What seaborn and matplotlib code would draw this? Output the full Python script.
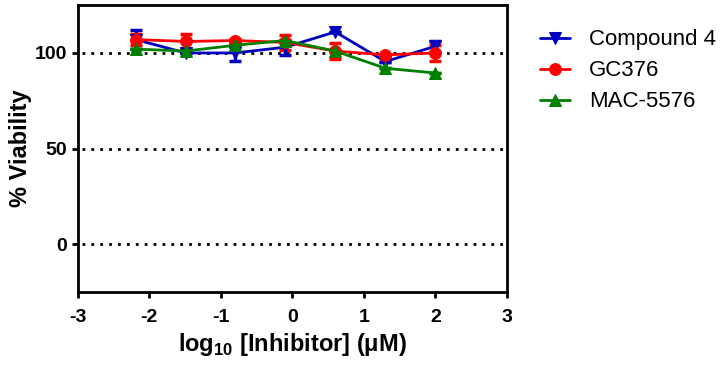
import seaborn as sns
import pandas as pd
import matplotlib.pyplot as plt
import numpy as np

sns.set_theme(style='ticks')
plt.rcParams['font.family'] = ['Liberation Sans', 'DejaVu Sans']
plt.rcParams.update({
    'axes.unicode_minus': False,
    'text.color': 'black',
    'axes.labelcolor': 'black',
    'xtick.color': 'black',
    'ytick.color': 'black',
    'mathtext.fontset': 'custom',
    'mathtext.rm': 'Liberation Sans',
    'mathtext.bf': 'Liberation Sans:bold',
})

# log10 of concentration (uM), 5-fold dilution from 100 uM
log_conc = [-2.19, -1.49, -0.80, -0.10, 0.60, 1.30, 2.00]

cmpd4 = [107, 100, 100, 103, 111, 95.5, 103.5]
cmpd4_err = [5, 0, 4, 4, 0, 0, 3]
gc376 = [107, 106, 106.5, 105.5, 101, 99, 100]
gc376_err = [3, 4, 1, 4, 4, 0, 4]
mac5576 = [102, 101, 104, 106.5, 101, 92, 89.5]
mac5576_err = [0, 0, 0, 0, 0, 0, 0]

names = ['Compound 4', 'GC376', 'MAC-5576']
colors = ['#0000c0', '#ff0000', '#008000']
markers = ['v', 'o', '^']

df = pd.DataFrame({
    'x': log_conc * 3,
    'y': cmpd4 + gc376 + mac5576,
    'err': cmpd4_err + gc376_err + mac5576_err,
    'name': np.repeat(names, len(log_conc)),
})

fig = plt.figure(figsize=(7.2, 3.66), dpi=100)
ax = fig.add_axes([0.108, 0.202, 0.596, 0.784])

for y in [0, 50, 100]:
    ax.axhline(y, xmin=0.01, xmax=0.99, color='black', linestyle=(0, (1, 2.2)),
               linewidth=2, zorder=1)

for name, c, m in zip(names, colors, markers):
    d = df[df.name == name]
    ax.errorbar(d.x, d.y, yerr=d.err, fmt='none', ecolor=c, elinewidth=2.5,
                capsize=4, capthick=2.5, zorder=3)
    sns.lineplot(data=d, x='x', y='y', ax=ax, color=c, marker=m, markersize=8.5,
                 markeredgecolor=c, linewidth=2, label=name, zorder=4)

ax.set_xlim(-3, 3)
ax.set_ylim(-25, 125)
ax.set_xticks(range(-3, 4))
ax.set_yticks([0, 50, 100])
for s in ax.spines.values():
    s.set_linewidth(2)
    s.set_color('black')
ax.tick_params(width=2, length=4.5, labelsize=14, color='black')
ax.tick_params(axis='x', pad=8)
ax.tick_params(axis='y', pad=3)
for lab in ax.get_xticklabels() + ax.get_yticklabels():
    lab.set_fontweight('bold')
ax.set_xlabel(r'log$_{\mathbf{10}}$ [Inhibitor] (μM)', fontsize=17,
              fontweight='bold', labelpad=3)
ax.set_ylabel('% Viability', fontsize=17, fontweight='bold', labelpad=2)

ax.legend(loc='upper left', bbox_to_anchor=(1.03, 0.985), frameon=False,
          fontsize=16, handlelength=1.35, handletextpad=0.85, labelspacing=0.45)

fig.savefig('out.png', dpi=100)
